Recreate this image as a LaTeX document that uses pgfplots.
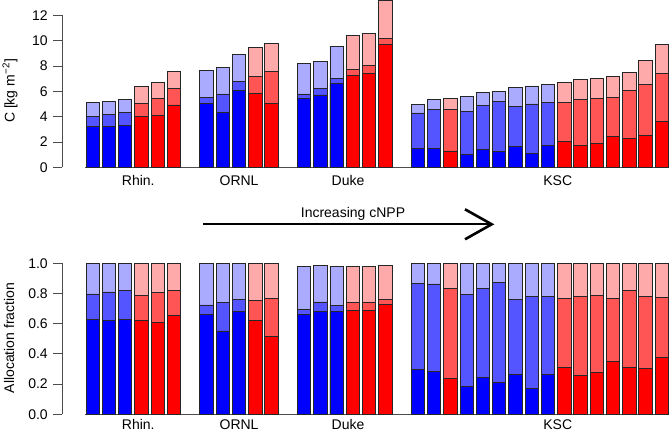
\documentclass[border=0pt]{standalone}
\usepackage{pgfplots}
\usepackage{pgfplotstable}
\pgfplotsset{compat=1.18}
\usepackage{fontspec}
\setmainfont{Liberation Sans}

\definecolor{bD}{HTML}{0000FF}
\definecolor{bM}{HTML}{5555FF}
\definecolor{bL}{HTML}{AAAAFF}
\definecolor{rD}{HTML}{FF0000}
\definecolor{rM}{HTML}{FF5555}
\definecolor{rL}{HTML}{FFAAAA}

% top panel: cumulative C [kg m^-2]
\pgfplotstableread{
x dark mid tot
0 3.20 4.05 5.10
1 3.20 4.18 5.18
2 3.34 4.34 5.34
7 5.07 5.52 7.68
8 4.31 5.79 7.86
9 6.05 6.79 8.92
13 5.47 5.79 8.21
14 5.71 6.23 8.34
15 6.63 7.05 9.57
20 1.47 4.29 4.97
21 1.50 4.60 5.37
23 1.03 4.39 5.57
24 1.44 4.89 5.89
25 1.26 5.23 6.02
26 1.66 4.78 6.31
27 1.10 5.00 6.42
28 1.74 5.10 6.55
}\topblue
\pgfplotstableread{
x dark mid tot
3 4.00 5.07 6.39
4 4.07 5.42 6.68
5 4.92 6.20 7.55
10 5.84 7.15 9.44
11 5.05 7.58 9.81
16 7.26 7.76 10.39
17 7.44 8.02 10.60
18 9.71 10.18 13.15
22 1.29 4.55 5.47
29 2.05 5.10 6.71
30 1.74 5.39 6.92
31 1.90 5.47 6.99
32 2.47 5.50 7.15
33 2.29 6.10 7.47
34 2.55 6.57 8.44
35 3.63 7.44 9.68
}\topred
% bottom panel: cumulative allocation fraction
\pgfplotstableread{
x dark mid tot
0 0.627 0.797 0.996
1 0.623 0.810 0.996
2 0.629 0.819 1.000
7 0.660 0.724 1.000
8 0.552 0.740 1.000
9 0.684 0.759 1.000
13 0.658 0.695 0.980
14 0.680 0.744 0.987
15 0.680 0.722 0.982
20 0.298 0.865 1.000
21 0.285 0.863 1.000
23 0.183 0.795 1.000
24 0.247 0.834 1.000
25 0.210 0.872 1.000
26 0.263 0.762 1.000
27 0.174 0.781 1.000
28 0.263 0.781 1.000
}\botblue
\pgfplotstableread{
x dark mid tot
3 0.623 0.790 0.996
4 0.607 0.806 0.996
5 0.653 0.817 0.996
10 0.623 0.755 1.000
11 0.517 0.770 1.000
16 0.689 0.742 0.980
17 0.689 0.744 0.980
18 0.726 0.759 0.985
22 0.236 0.834 1.000
29 0.311 0.766 1.000
30 0.254 0.779 1.000
31 0.276 0.784 1.000
32 0.347 0.768 1.000
33 0.307 0.821 1.000
34 0.302 0.779 1.000
35 0.377 0.773 1.000
}\botred

\pgfplotsset{
  panel/.style={
    scale only axis, width=606.7pt, xmin=-1.87, xmax=35.44,
    clip=false,
    axis x line=none, axis y line*=left,
    y axis line style={draw=none},
    ytick align=outside, major tick length=9pt,
    tick style={black!70, line width=0.9pt},
    yticklabel style={font=\fontsize{14}{16}\selectfont, xshift=-2pt},
    /pgf/number format/assume math mode=true,
    ybar, bar width=0.82, bar shift=0pt,
    every axis plot/.append style={draw=black!85, line width=0.9pt},
  },
}

\begin{document}
\begin{tikzpicture}[x=1pt,y=1pt,font=\fontsize{14}{16}\selectfont]
\useasboundingbox (0,0) rectangle (669,-433);

% ---------- top panel ----------
\begin{axis}[panel, at={(62.3pt,-167.3pt)}, anchor=south west,
  height=167.3pt, ymin=0, ymax=13.21, ytick={0,2,...,12}]
\draw[black!70, line width=0.9pt] (axis cs:-0.5,0) -- (axis cs:35.45,0);
\addplot[fill=bL] table[x=x,y=tot] {\topblue};
\addplot[fill=bM] table[x=x,y=mid] {\topblue};
\addplot[fill=bD] table[x=x,y=dark] {\topblue};
\addplot[fill=rL] table[x=x,y=tot] {\topred};
\addplot[fill=rM] table[x=x,y=mid] {\topred};
\addplot[fill=rD] table[x=x,y=dark] {\topred};
\draw[black!70, line width=0.9pt] (axis cs:-1.87,0) -- (axis cs:-1.87,12);
\node[anchor=base] at (axis cs:2.8,0) [yshift=-18pt] {Rhin.};
\node[anchor=base] at (axis cs:9.0,0) [yshift=-18pt] {ORNL};
\node[anchor=base] at (axis cs:15.7,0) [yshift=-18pt] {Duke};
\node[anchor=base] at (axis cs:28.6,0) [yshift=-18pt] {KSC};
\end{axis}

% ---------- bottom panel ----------
\begin{axis}[panel, at={(62.3pt,-414.3pt)}, anchor=south west,
  height=151pt, ymin=0, ymax=1, ytick={0,0.2,...,1.0},
  yticklabel style={/pgf/number format/.cd, fixed, fixed zerofill, precision=1}]
\draw[black!70, line width=0.9pt] (axis cs:-0.5,0) -- (axis cs:35.45,0);
\addplot[fill=bL] table[x=x,y=tot] {\botblue};
\addplot[fill=bM] table[x=x,y=mid] {\botblue};
\addplot[fill=bD] table[x=x,y=dark] {\botblue};
\addplot[fill=rL] table[x=x,y=tot] {\botred};
\addplot[fill=rM] table[x=x,y=mid] {\botred};
\addplot[fill=rD] table[x=x,y=dark] {\botred};
\draw[black!70, line width=0.9pt] (axis cs:-1.87,0) -- (axis cs:-1.87,1);
\node[anchor=base] at (axis cs:2.8,0) [yshift=-15.5pt] {Rhin.};
\node[anchor=base] at (axis cs:9.0,0) [yshift=-15.5pt] {ORNL};
\node[anchor=base] at (axis cs:15.7,0) [yshift=-15.5pt] {Duke};
\node[anchor=base] at (axis cs:28.6,0) [yshift=-15.5pt] {KSC};
\end{axis}

% y labels
\node[rotate=90] at (10,-91) {C [kg m\textsuperscript{−2}]};
\node[rotate=90] at (9,-338) {Allocation fraction};

% arrow
\node[anchor=base] at (353,-217) {Increasing cNPP};
\draw[line width=2.6pt] (203,-224) -- (491,-224);
\draw[line width=2.6pt, line join=miter] (465,-209.3) -- (491.7,-224.3) -- (465,-239.3);
\end{tikzpicture}
\end{document}
